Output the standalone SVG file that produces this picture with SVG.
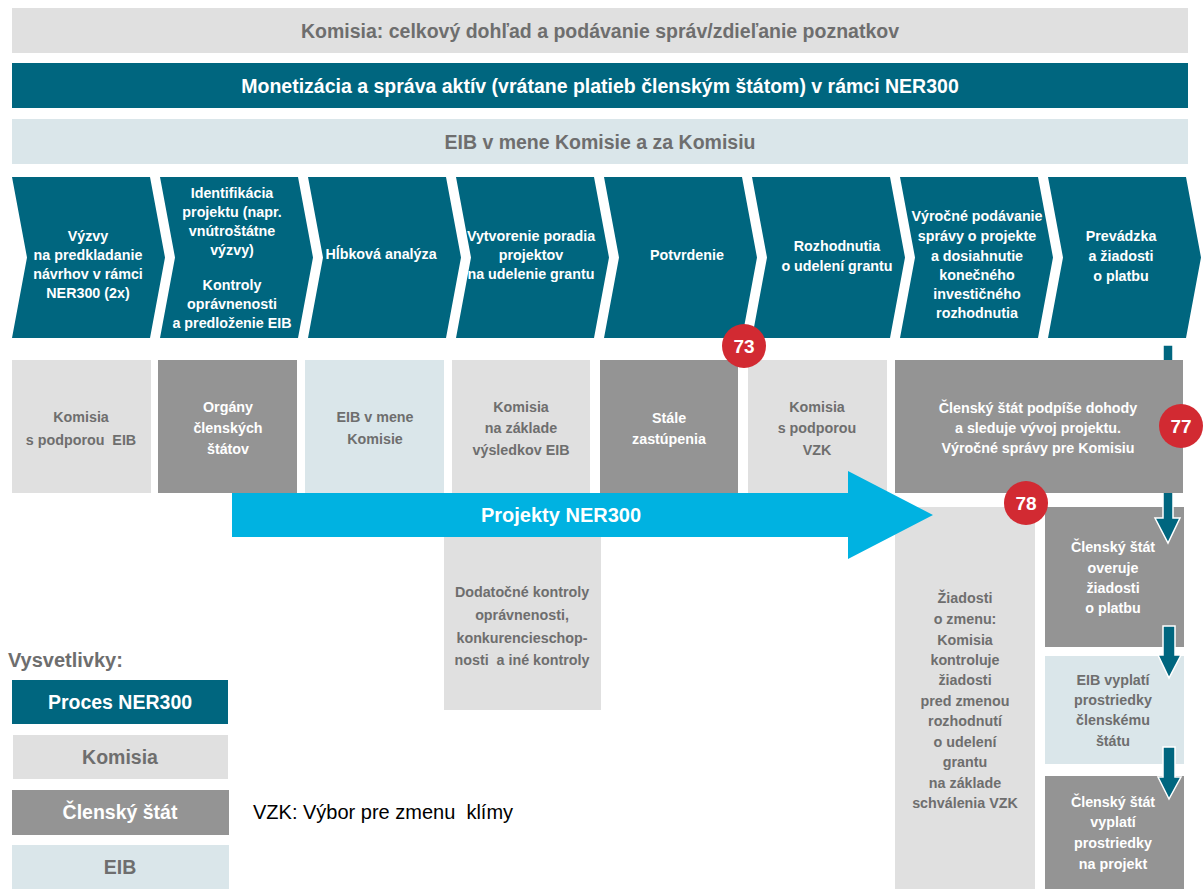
<svg xmlns="http://www.w3.org/2000/svg" width="1203" height="889" viewBox="0 0 1203 889">
<style>
text{font-family:"Liberation Sans",Arial,sans-serif;font-weight:bold;text-anchor:middle}
.teal{fill:#00667f}.lg{fill:#e0e0e0}.dg{fill:#949494}.lb{fill:#dae6ea}
.tw{fill:#ffffff;font-size:14.3px}.tg{fill:#6e6e6e;font-size:14.3px}
.big{font-size:19.5px}
.badge circle{fill:#d22a32}.badge text{fill:#fff;font-size:19px}
</style>
<rect width="1203" height="889" fill="#fff"/>
<g id="bar-komisia"><rect class="lg" x="12" y="8" width="1176" height="45"/><text class="tg big" x="600" y="37.5">Komisia: celkový dohľad a podávanie správ/zdieľanie poznatkov</text></g>
<g id="bar-monetizacia"><rect class="teal" x="12" y="63" width="1176" height="45"/><text class="tw big" x="600" y="92.5">Monetizácia a správa aktív (vrátane platieb členským štátom) v rámci NER300</text></g>
<g id="bar-eib"><rect class="lb" x="12" y="119" width="1176" height="45"/><text class="tg big" x="600" y="148.5">EIB v mene Komisie a za Komisiu</text></g>

<g id="chev1"><path class="teal" d="M12,177H150L165,257.5L150,338H12L27,257.5Z"/><text class="tw"><tspan x="88" y="241">Výzvy</tspan><tspan x="88" y="260">na predkladanie</tspan><tspan x="88" y="279">návrhov v rámci</tspan><tspan x="88" y="298">NER300 (2x)</tspan></text></g>
<g id="chev2"><path class="teal" d="M160,177H298L313,257.5L298,338H160L175,257.5Z"/><text class="tw"><tspan x="232" y="198">Identifikácia</tspan><tspan x="232" y="217">projektu (napr.</tspan><tspan x="232" y="236">vnútroštátne</tspan><tspan x="232" y="255">výzvy)</tspan><tspan x="232" y="290">Kontroly</tspan><tspan x="232" y="309">oprávnenosti</tspan><tspan x="232" y="328">a predloženie EIB</tspan></text></g>
<g id="chev3"><path class="teal" d="M308,177H446L461,257.5L446,338H308L323,257.5Z"/><text class="tw" x="381" y="259">Hĺbková analýza</text></g>
<g id="chev4"><path class="teal" d="M456,177H594L609,257.5L594,338H456L471,257.5Z"/><text class="tw"><tspan x="531" y="241">Vytvorenie poradia</tspan><tspan x="531" y="260">projektov</tspan><tspan x="531" y="279">na udelenie grantu</tspan></text></g>
<g id="chev5"><path class="teal" d="M604,177H742L757,257.5L742,338H604L619,257.5Z"/><text class="tw" x="687" y="260">Potvrdenie</text></g>
<g id="chev6"><path class="teal" d="M752,177H890L905,257.5L890,338H752L767,257.5Z"/><text class="tw"><tspan x="837" y="251">Rozhodnutia</tspan><tspan x="837" y="271">o udelení grantu</tspan></text></g>
<g id="chev7"><path class="teal" d="M900,177H1038L1053,257.5L1038,338H900L915,257.5Z"/><text class="tw"><tspan x="977" y="221">Výročné podávanie</tspan><tspan x="977" y="241">správy o projekte</tspan><tspan x="977" y="261">a dosiahnutie</tspan><tspan x="977" y="280">konečného</tspan><tspan x="977" y="299">investičného</tspan><tspan x="977" y="318">rozhodnutia</tspan></text></g>
<g id="chev8"><path class="teal" d="M1048,177H1186L1201,257.5L1186,338H1048L1063,257.5Z"/><text class="tw"><tspan x="1121" y="241">Prevádzka</tspan><tspan x="1121" y="261">a žiadosti</tspan><tspan x="1121" y="281">o platbu</tspan></text></g>

<g id="box-komisia-eib"><rect class="lg" x="12" y="360" width="139" height="133"/><text class="tg"><tspan x="81" y="422">Komisia</tspan><tspan x="81" y="445">s podporou &#160;EIB</tspan></text></g>
<g id="box-organy"><rect class="dg" x="158" y="360" width="139" height="133"/><text class="tw"><tspan x="228" y="412">Orgány</tspan><tspan x="228" y="433">členských</tspan><tspan x="228" y="454">štátov</tspan></text></g>
<g id="box-eib-komisie"><rect class="lb" x="305" y="360" width="139" height="133"/><text class="tg"><tspan x="375" y="422">EIB v mene</tspan><tspan x="375" y="444">Komisie</tspan></text></g>
<g id="box-komisia-vysledky"><rect class="lg" x="452" y="360" width="138" height="133"/><text class="tg"><tspan x="521" y="412">Komisia</tspan><tspan x="521" y="433">na základe</tspan><tspan x="521" y="455">výsledkov EIB</tspan></text></g>
<g id="box-stale"><rect class="dg" x="600" y="360" width="138" height="133"/><text class="tw"><tspan x="669" y="423">Stále</tspan><tspan x="669" y="444">zastúpenia</tspan></text></g>
<g id="box-komisia-vzk"><rect class="lg" x="748" y="360" width="139" height="133"/><text class="tg"><tspan x="817" y="412">Komisia</tspan><tspan x="817" y="433">s podporou</tspan><tspan x="817" y="455">VZK</tspan></text></g>
<g id="box-dodatocne"><rect class="lg" x="444" y="520" width="157" height="190"/><text class="tg"><tspan x="522" y="597">Dodatočné kontroly</tspan><tspan x="522" y="620">oprávnenosti,</tspan><tspan x="522" y="643">konkurencieschop-</tspan><tspan x="522" y="665">nosti &#160;a iné kontroly</tspan></text></g>
<g id="box-ziadosti-zmena"><rect class="lg" x="895" y="507" width="140" height="382"/><text class="tg"><tspan x="965" y="603">Žiadosti</tspan><tspan x="965" y="624">o zmenu:</tspan><tspan x="965" y="645">Komisia</tspan><tspan x="965" y="665">kontroluje</tspan><tspan x="965" y="685">žiadosti</tspan><tspan x="965" y="706">pred zmenou</tspan><tspan x="965" y="726">rozhodnutí</tspan><tspan x="965" y="747">o udelení</tspan><tspan x="965" y="767">grantu</tspan><tspan x="965" y="788">na základe</tspan><tspan x="965" y="808">schválenia VZK</tspan></text></g>
<g id="box-overuje"><rect class="dg" x="1045" y="507" width="139" height="140"/><text class="tw"><tspan x="1113" y="552">Členský štát</tspan><tspan x="1113" y="573">overuje</tspan><tspan x="1113" y="593">žiadosti</tspan><tspan x="1113" y="613">o platbu</tspan></text></g>
<g id="box-eib-vyplati"><rect class="lb" x="1045" y="656" width="139" height="108"/><text class="tg"><tspan x="1113" y="685">EIB vyplatí</tspan><tspan x="1113" y="705">prostriedky</tspan><tspan x="1113" y="725">členskému</tspan><tspan x="1113" y="746">štátu</tspan></text></g>
<g id="box-vyplati-projekt"><rect class="dg" x="1045" y="776" width="139" height="113"/><text class="tw"><tspan x="1113" y="807">Členský štát</tspan><tspan x="1113" y="827">vyplatí</tspan><tspan x="1113" y="848">prostriedky</tspan><tspan x="1113" y="869">na projekt</tspan></text></g>

<g id="connectors">
<path fill="#00667f" stroke="#fff" stroke-width="1.5" d="M1163,345H1173V518H1180L1168,543L1155,518H1163Z"/>
<path fill="#00667f" stroke="#fff" stroke-width="1.5" d="M1163,626H1175V655H1181L1169,678L1158,655H1163Z"/>
<path fill="#00667f" stroke="#fff" stroke-width="1.5" d="M1163,747H1175V777H1181L1169,799L1158,777H1163Z"/>
</g>

<g id="box-clensky-stat"><rect class="dg" x="895" y="360" width="288" height="133"/><text class="tw"><tspan x="1038" y="413">Členský štát podpíše dohody</tspan><tspan x="1038" y="433">a sleduje vývoj projektu.</tspan><tspan x="1038" y="453">Výročné správy pre Komisiu</tspan></text></g>

<g id="projekty-arrow"><path fill="#00b2e1" d="M232,493H848V471L933,515L848,559V537H232Z"/><text fill="#fff" style="font-size:20px" x="561" y="522">Projekty NER300</text></g>

<g id="badge73" class="badge"><circle cx="744" cy="346" r="22"/><text x="744" y="353">73</text></g>
<g id="badge77" class="badge"><circle cx="1181" cy="426" r="22"/><text x="1181" y="433">77</text></g>
<g id="badge78" class="badge"><circle cx="1026" cy="503" r="22"/><text x="1026" y="510">78</text></g>

<g id="legend">
<text class="tg" style="text-anchor:start;font-size:20px" x="8" y="667">Vysvetlivky:</text>
<rect class="teal" x="12" y="680" width="216" height="44"/><text class="tw" style="font-size:19.5px" x="120" y="709">Proces NER300</text>
<rect class="lg" x="13" y="735" width="215" height="44"/><text class="tg big" x="120" y="764">Komisia</text>
<rect class="dg" x="12" y="790" width="217" height="45"/><text class="tw" style="font-size:19.5px" x="120" y="819">Členský štát</text>
<rect class="lb" x="12" y="845" width="217" height="44"/><text class="tg big" x="120" y="874">EIB</text>
<text style="font-weight:normal;text-anchor:start;font-size:20px" fill="#000" x="253" y="819">VZK: Výbor pre zmenu &#160;klímy</text>
</g>
</svg>
